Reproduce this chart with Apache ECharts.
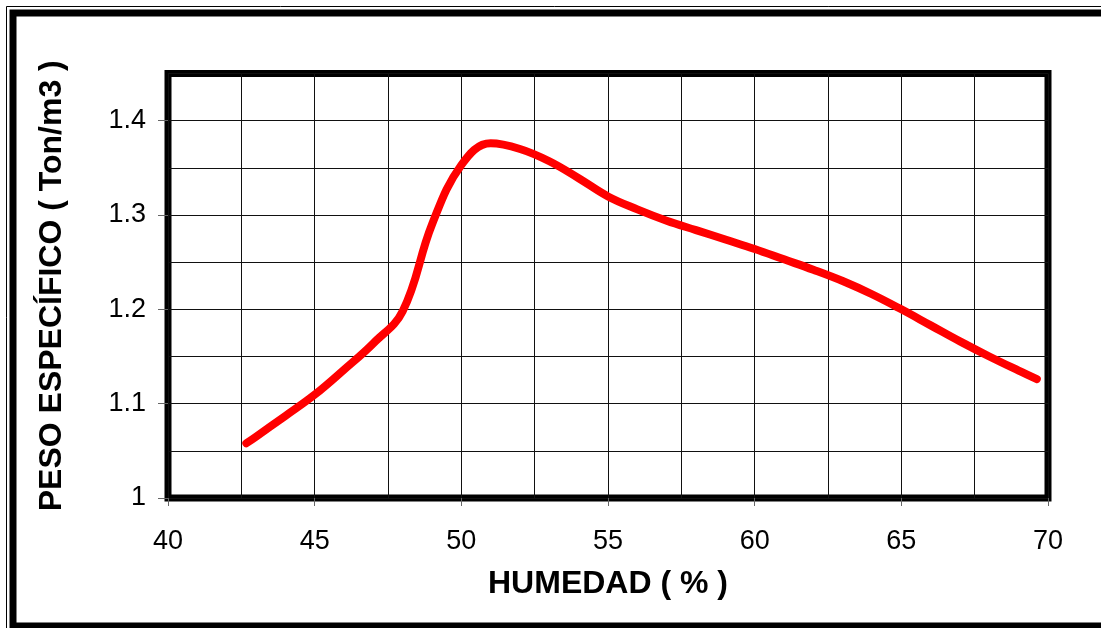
<!DOCTYPE html>
<html>
<head>
<meta charset="utf-8">
<script src="https://cdn.jsdelivr.net/npm/echarts@6/dist/echarts.min.js"></script>
<style>
html,body{margin:0;padding:0;background:#fff;}
#chart{width:1101px;height:628px;}
</style>
</head>
<body>
<div id="chart"></div>
<script>
// Data
const humedad = [42.67, 43, 44, 45, 46, 47, 48, 49, 50, 51, 52, 53, 54, 55, 56, 57, 58, 59, 60, 61, 62, 63, 64, 65, 66, 67, 68, 69, 69.62];
const peso    = [1.058, 1.065, 1.087, 1.1095, 1.136, 1.164, 1.198, 1.29, 1.353, 1.376, 1.370, 1.357, 1.339, 1.3197, 1.306, 1.294, 1.284, 1.274, 1.264, 1.253, 1.242, 1.230, 1.216, 1.200, 1.183, 1.166, 1.150, 1.135, 1.126];
const xTickLabels = [40, 45, 50, 55, 60, 65, 70];
const yTickLabels = [1, 1.1, 1.2, 1.3, 1.4];
const xTitle = 'HUMEDAD ( % )';
const yTitle = 'PESO ESPECÍFICO ( Ton/m3 )';

const points = humedad.map((h, i) => [h, peso[i]]);
const chart = echarts.init(document.getElementById('chart'), null, {renderer: 'canvas'});
const font = 'Arial, "Liberation Sans", sans-serif';
const gridLine = {show: true, lineStyle: {color: '#111', width: 1}};
chart.setOption({
  animation: false,
  backgroundColor: '#fff',
  grid: {left: 168, top: 73.5, right: 53, bottom: 130, show: true, borderColor: '#000', borderWidth: 7, backgroundColor: 'transparent'},
  xAxis: [{
    type: 'value', min: 40, max: 70, interval: 2.5,
    name: xTitle, nameLocation: 'middle', nameGap: 70,
    nameTextStyle: {fontFamily: font, fontWeight: 'bold', fontSize: 32, color: '#000'},
    axisLine: {show: false},
    axisTick: {show: true, customValues: xTickLabels, length: 8, lineStyle: {color: '#666', width: 1}},
    axisLabel: {customValues: xTickLabels, fontFamily: font, fontSize: 27, color: '#000', margin: 30},
    splitLine: {show: false}
  }, {
    type: 'value', min: 40, max: 70, interval: 2.5, position: 'top',
    axisLine: {show: false}, axisTick: {show: false}, axisLabel: {show: false},
    splitLine: gridLine
  }],
  yAxis: [{
    type: 'value', min: 1, max: 1.45, interval: 0.05,
    name: yTitle, nameLocation: 'middle', nameGap: 100,
    nameTextStyle: {fontFamily: font, fontWeight: 'bold', fontSize: 32, color: '#000'},
    axisLine: {show: false},
    axisTick: {show: true, customValues: yTickLabels, length: 10, lineStyle: {color: '#666', width: 1}},
    axisLabel: {customValues: yTickLabels, fontFamily: font, fontSize: 27, color: '#000', margin: 22},
    splitLine: {show: false}
  }, {
    type: 'value', min: 1, max: 1.45, interval: 0.05, position: 'right',
    axisLine: {show: false}, axisTick: {show: false}, axisLabel: {show: false},
    splitLine: gridLine
  }],
  graphic: [
    {type: 'rect', silent: true, shape: {x: 6.5, y: 6.5, width: 1300, height: 1000}, style: {fill: null, stroke: '#000', lineWidth: 1}},
    {type: 'rect', silent: true, shape: {x: 13, y: 13, width: 1200, height: 613}, style: {fill: null, stroke: '#000', lineWidth: 7}}
  ],
  series: [{
    type: 'line',
    data: points,
    xAxisIndex: 0,
    yAxisIndex: 0,
    smooth: 0.4,
    showSymbol: false,
    symbol: 'none',
    lineStyle: {color: '#ff0000', width: 8, cap: 'round', join: 'round'},
    z: 5
  }]
});
</script>
</body>
</html>
